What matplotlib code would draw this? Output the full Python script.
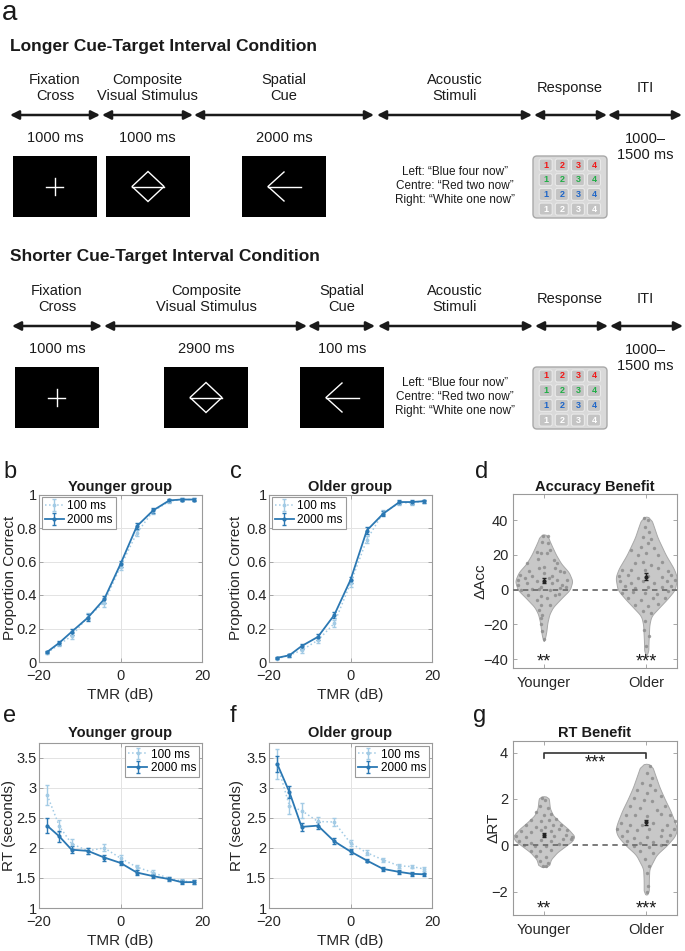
import numpy as np
import matplotlib
matplotlib.use('Agg')
import matplotlib.pyplot as plt
from matplotlib.patches import Rectangle, FancyBboxPatch, Polygon

plt.rcParams['font.family'] = ['Liberation Sans', 'DejaVu Sans']

# ---------------- data ----------------
tmr = [-18, -15, -12, -8, -4, 0, 4, 8, 12, 15, 18]

young_acc_100 = [0.055, 0.105, 0.155, 0.27, 0.355, 0.57, 0.77, 0.90, 0.96, 0.97, 0.97]
young_acc_100_err = [0.006, 0.012, 0.02, 0.02, 0.025, 0.02, 0.02, 0.015, 0.008, 0.008, 0.008]
young_acc_2000 = [0.06, 0.115, 0.18, 0.265, 0.375, 0.585, 0.81, 0.905, 0.965, 0.97, 0.97]
young_acc_2000_err = [0.006, 0.012, 0.02, 0.02, 0.022, 0.02, 0.018, 0.015, 0.008, 0.008, 0.008]

old_acc_100 = [0.02, 0.04, 0.07, 0.13, 0.23, 0.47, 0.73, 0.89, 0.95, 0.95, 0.96]
old_acc_100_err = [0.005, 0.008, 0.015, 0.015, 0.02, 0.02, 0.02, 0.015, 0.01, 0.01, 0.01]
old_acc_2000 = [0.025, 0.04, 0.095, 0.15, 0.28, 0.49, 0.785, 0.885, 0.955, 0.955, 0.96]
old_acc_2000_err = [0.005, 0.008, 0.015, 0.02, 0.02, 0.02, 0.018, 0.015, 0.01, 0.01, 0.01]

young_rt_100 = [2.88, 2.36, 2.07, 1.95, 2.0, 1.83, 1.68, 1.59, 1.49, 1.45, 1.43]
young_rt_100_err = [0.16, 0.10, 0.07, 0.05, 0.06, 0.05, 0.04, 0.04, 0.03, 0.03, 0.03]
young_rt_2000 = [2.37, 2.19, 1.97, 1.95, 1.84, 1.75, 1.59, 1.53, 1.48, 1.43, 1.43]
young_rt_2000_err = [0.12, 0.09, 0.06, 0.05, 0.05, 0.04, 0.04, 0.03, 0.03, 0.03, 0.03]

old_rt_100 = [3.40, 2.70, 2.62, 2.44, 2.43, 2.08, 1.92, 1.80, 1.70, 1.69, 1.65]
old_rt_100_err = [0.25, 0.14, 0.12, 0.07, 0.07, 0.05, 0.04, 0.03, 0.03, 0.03, 0.03]
old_rt_2000 = [3.40, 2.93, 2.35, 2.37, 2.11, 1.94, 1.79, 1.65, 1.60, 1.57, 1.56]
old_rt_2000_err = [0.13, 0.10, 0.07, 0.06, 0.05, 0.04, 0.03, 0.03, 0.03, 0.03, 0.03]

groups = ['Younger', 'Older']

# Accuracy benefit: individual values and their horizontal jitter
young_dacc = [31, 31, 27.6, 27.0, 21.9, 21.3, 21.0, 22.9, 15.2, 17.5, 17.1, 15.6, 10.9, 12.4,
              13.3, 12.4, 10.5, 8.6, 7.6, 9.5, 8.0, 9.9, 5.7, 6.7, 4.8, 6.7, 5.7, 5.7, 2.9, 3.8,
              1.5, 3.8, 2.9, -0.4, 0.4, 0.4, 0.0, 1.0, 1.5, -2.9, -3.8, -2.9, -2.5, -5.7, -4.8,
              -8.6, -8.6, -11.4, -14.3, -16.2, -20, -23.8, -28.6]
young_dacc_jit = [-0.01, 0.04, -0.02, 0.04, -0.07, -0.03, 0.03, 0.065, -0.16, -0.06, 0.1, 0.13,
                  -0.14, -0.05, 0.0, 0.11, 0.16, -0.23, -0.11, 0.0, 0.08, 0.2, -0.25, -0.18,
                  -0.065, 0.05, 0.13, 0.23, -0.25, -0.16, -0.03, 0.08, 0.18, -0.22, -0.11,
                  -0.05, 0.06, 0.16, 0.22, -0.15, -0.03, 0.11, 0.15, -0.065, 0.03, -0.03,
                  0.065, -0.05, -0.016, -0.03, -0.03, -0.016, 0.0]
old_dacc = [41.0, 40.0, 36.2, 33.3, 30.1, 29.0, 24.8, 26.7, 23.8, 22.9, 20.0, 21.0, 20.0, 16.2,
            15.2, 16.2, 14.3, 11.4, 11.4, 11.4, 12.4, 10.5, 8.0, 8.6, 6.7, 8.0, 7.2, 8.6, 4.8,
            3.8, 4.8, 3.8, 4.8, 5.7, 1.9, 1.0, 1.5, 1.5, 2.3, -1.9, -1.5, -1.9, -2.3, -1.0,
            -4.8, -5.7, -4.8, -4.8, -8.6, -9.1, -8.0, -12.4, -13.3, -18.1, -22.9, -26.7, -32.4]
old_dacc_jit = [-0.023, 0.016, -0.01, 0.023, -0.033, 0.05, -0.05, 0.016, 0.08, -0.15, -0.08,
                0.0, 0.11, 0.15, -0.11, -0.03, 0.05, -0.24, -0.15, -0.016, 0.11, 0.21, -0.27,
                -0.18, -0.08, 0.016, 0.15, 0.24, -0.26, -0.15, -0.03, 0.08, 0.2, 0.28, -0.21,
                -0.11, 0.016, 0.15, 0.24, -0.24, -0.13, -0.016, 0.1, 0.21, -0.18, -0.05, 0.065,
                0.18, -0.11, 0.016, 0.11, -0.03, 0.05, -0.016, -0.02, 0.03, 0.0]
dacc_mean = [5.2, 7.5]
dacc_sem = [1.5, 2.0]
dacc_stars = ['**', '***']
# violin outlines (value, half-width)
young_dacc_vy = [-29.5, -28, -24, -19, -14, -10, -5, 0, 5, 10, 15, 20, 25, 29, 31, 31.8]
young_dacc_vw = [0.0, 0.012, 0.025, 0.035, 0.055, 0.09, 0.17, 0.255, 0.28, 0.245, 0.17, 0.12,
                 0.08, 0.05, 0.04, 0.0]
old_dacc_vy = [-37.5, -36, -30, -20, -15, -10, -5, 0, 7, 12, 20, 30, 37, 41, 42]
old_dacc_vw = [0.0, 0.02, 0.022, 0.03, 0.05, 0.13, 0.21, 0.28, 0.30, 0.27, 0.19, 0.11, 0.07,
               0.045, 0.0]

# RT benefit
young_drt = [2.04, 1.97, 1.69, 1.61, 1.43, 1.33, 1.37, 1.11, 1.04, 1.11, 1.14, 0.86, 0.8, 0.8,
             0.86, 0.9, 0.61, 0.57, 0.66, 0.61, 0.69, 0.66, 0.4, 0.37, 0.4, 0.43, 0.37, 0.19,
             0.11, 0.23, 0.19, 0.26, 0.26, 0.0, -0.03, -0.03, 0.04, -0.24, -0.24, -0.2, -0.46,
             -0.49, -0.67, -0.74, -0.89, -0.89]
young_drt_jit = [-0.016, 0.016, -0.04, 0.04, -0.075, 0.007, 0.07, -0.12, -0.026, 0.055, 0.12,
                 -0.17, -0.075, 0.016, 0.088, 0.17, -0.22, -0.12, -0.026, 0.07, 0.15, 0.23,
                 -0.27, -0.17, 0.1, 0.22, 0.28, -0.24, -0.12, -0.026, 0.07, 0.19, 0.27, -0.19,
                 -0.09, 0.023, 0.15, -0.12, -0.04, 0.07, -0.075, 0.023, -0.04, 0.04, -0.01, 0.023]
old_drt = [3.43, 3.11, 2.9, 2.69, 2.61, 2.4, 2.26, 2.4, 2.04, 1.97, 1.9, 2.11, 1.69, 1.61, 1.54,
           1.69, 1.33, 1.33, 1.26, 1.37, 1.33, 0.97, 0.9, 0.86, 0.97, 0.9, 1.04, 0.69, 0.61,
           0.66, 0.69, 0.66, 0.71, 0.4, 0.33, 0.37, 0.4, 0.43, 0.19, 0.11, 0.14, 0.19, -0.03,
           -0.06, 0.0, -0.24, -0.31, -0.6, -0.89, -1.17, -1.74, -2.03]
old_drt_jit = [0.04, 0.007, 0.055, -0.04, 0.04, -0.09, 0.007, 0.09, -0.12, -0.026, 0.055, 0.14,
               -0.16, -0.06, 0.1, 0.185, -0.2, -0.11, 0.007, 0.14, 0.23, -0.25, -0.16, -0.04,
               0.07, 0.2, 0.28, -0.29, -0.19, -0.09, 0.023, 0.15, 0.27, -0.24, -0.12, 0.007,
               0.14, 0.23, -0.19, -0.06, 0.07, 0.2, -0.12, 0.023, 0.14, -0.06, 0.07, -0.01,
               0.023, 0.007, 0.013, 0.007]
drt_mean = [0.45, 1.0]
drt_sem = [0.07, 0.1]
drt_stars = ['**', '***']
young_drt_vy = [-0.93, -0.9, -0.6, -0.3, 0.0, 0.2, 0.4, 0.7, 1.0, 1.3, 1.6, 2.0, 2.1, 2.12]
young_drt_vw = [0.0, 0.05, 0.07, 0.13, 0.22, 0.28, 0.30, 0.24, 0.16, 0.09, 0.06, 0.05, 0.04, 0.0]
old_drt_vy = [-2.12, -2.05, -1.5, -1.0, -0.4, 0.0, 0.4, 0.7, 1.0, 1.5, 2.0, 2.5, 3.0, 3.45, 3.52]
old_drt_vw = [0.0, 0.025, 0.025, 0.03, 0.10, 0.20, 0.28, 0.30, 0.28, 0.235, 0.18, 0.13, 0.09,
              0.055, 0.0]

# ---------------- figure ----------------
W, H = 685, 951
fig = plt.figure(figsize=(W / 100, H / 100), dpi=100)

ax0 = fig.add_axes([0, 0, 1, 1])
ax0.set_xlim(0, W)
ax0.set_ylim(H, 0)
ax0.axis('off')

TXT = '#1a1a1a'


def darrow(x0, x1, y):
    ax0.annotate('', xy=(x1, y), xytext=(x0, y),
                 arrowprops=dict(arrowstyle='<|-|>', lw=1.8, color='#1a1a1a',
                                 mutation_scale=13, shrinkA=0, shrinkB=0))


def box_cross(x, y):
    ax0.add_patch(Rectangle((x, y), 84, 61, fc='black', ec='none'))
    cx, cy = x + 42, y + 30.5
    ax0.plot([cx - 8.5, cx + 8.5], [cy, cy], color='white', lw=1)
    ax0.plot([cx, cx], [cy - 8.5, cy + 8.5], color='white', lw=1)


def box_diamond(x, y):
    ax0.add_patch(Rectangle((x, y), 84, 61, fc='black', ec='none'))
    cx, cy = x + 42, y + 30.5
    ax0.add_patch(Polygon([(cx - 16, cy), (cx, cy - 15), (cx + 16, cy), (cx, cy + 15)],
                          closed=True, fill=False, ec='white', lw=1))
    ax0.plot([cx - 16, cx + 16], [cy, cy], color='white', lw=1)


def box_arrow(x, y):
    ax0.add_patch(Rectangle((x, y), 84, 61, fc='black', ec='none'))
    cx, cy = x + 42, y + 30.5
    ax0.plot([cx - 16, cx + 17], [cy, cy], color='white', lw=1)
    ax0.plot([cx, cx - 16, cx], [cy - 14.5, cy, cy + 14.5], color='white', lw=1)


def keypad(x, y):
    ax0.add_patch(FancyBboxPatch((x, y), 74, 62, boxstyle='round,pad=0,rounding_size=4',
                                 fc='#d9d9d9', ec='#a9a9a9', lw=1))
    cols = ['#f01818', '#1fae45', '#1f66c8', '#ffffff']
    for i in range(4):
        for j in range(4):
            bx = x + 12.7 + 16.1 * j
            by = y + 9 + 14.7 * i
            ax0.add_patch(FancyBboxPatch((bx - 6.5, by - 6), 13, 12,
                                         boxstyle='round,pad=0,rounding_size=2',
                                         fc='#c4c4c4', ec='#e9e9e9', lw=0.8))
            ax0.text(bx, by, str(j + 1), color=cols[i], fontsize=6.5, fontweight='bold',
                     ha='center', va='center')


def schematic(dy, cols, durs, boxes):
    (fx, cx_, sx) = cols
    for (x, t) in [(fx, 'Fixation\nCross'), (cx_, 'Composite\nVisual Stimulus'),
                   (sx, 'Spatial\nCue'), (455, 'Acoustic\nStimuli')]:
        ax0.text(x, 88 + dy, t, fontsize=10.5, ha='center', va='center', color=TXT,
                 linespacing=1.15)
    ax0.text(570, 88 + dy, 'Response', fontsize=10.5, ha='center', va='center', color=TXT)
    ax0.text(645, 88 + dy, 'ITI', fontsize=10.5, ha='center', va='center', color=TXT)
    for (x0, x1) in durs:
        darrow(x0, x1, 115 + dy)
    for (x, t) in [(fx, '1000 ms'), (cx_, boxes[3]), (sx, boxes[4])]:
        ax0.text(x, 138 + dy, t, fontsize=10.5, ha='center', va='center', color=TXT)
    ax0.text(645, 147 + dy, '1000\u2013\n1500 ms', fontsize=10.5, ha='center', va='center',
             color=TXT, linespacing=1.15)
    box_cross(boxes[0], 156 + dy)
    box_diamond(boxes[1], 156 + dy)
    box_arrow(boxes[2], 156 + dy)
    ax0.text(455, 186 + dy, 'Left: \u201cBlue four now\u201d\nCentre: \u201cRed two now\u201d\n'
             'Right: \u201cWhite one now\u201d', fontsize=8.5, ha='center', va='center',
             color=TXT, linespacing=1.25)
    keypad(533, 156 + dy)


ax0.text(2, 13, 'a', fontsize=20, ha='left', va='center', color=TXT)
ax0.text(10, 46, 'Longer Cue-Target Interval Condition', fontsize=12.5, fontweight='bold',
         ha='left', va='center', color=TXT)
schematic(0, (55, 147, 284),
          [(10, 100), (102, 193), (194, 374), (377, 532), (534, 607), (608, 682)],
          (13, 106, 242, '1000 ms', '2000 ms'))
ax0.text(10, 257, 'Shorter Cue-Target Interval Condition', fontsize=12.5, fontweight='bold',
         ha='left', va='center', color=TXT)
schematic(211, (57, 206, 342),
          [(12, 102), (104, 307), (308, 375), (378, 533), (535, 608), (610, 683)],
          (15, 164, 300, '2900 ms', '100 ms'))

for (x, y, t) in [(3, 472, 'b'), (230, 472, 'c'), (475, 472, 'd'),
                  (3, 716, 'e'), (230, 716, 'f'), (473, 716, 'g')]:
    ax0.text(x, y, t, fontsize=17, ha='left', va='center', color=TXT)


# ---------------- data panels ----------------
def px_axes(l, t, r, b):
    return fig.add_axes([l / W, 1 - b / H, (r - l) / W, (b - t) / H])


DARK = '#2b78b3'
LIGHT = '#a3cbe5'
SPINE = '#9a9a9a'


def style(ax, xpad=5, ypad=1.8):
    for s in ax.spines.values():
        s.set_color(SPINE)
        s.set_linewidth(0.8)
    ax.tick_params(direction='in', length=3, width=0.6, color=SPINE, labelsize=10.5,
                   labelcolor='#262626', top=True, right=True)
    ax.tick_params(axis='x', pad=xpad)
    ax.tick_params(axis='y', pad=ypad)


def line_panel(ax, y100, e100, y2000, e2000, title, ylim, yticks, ylab, legloc, ylabx, tpad):
    ax.errorbar(tmr, y100, yerr=e100, fmt='.:', color=LIGHT, ms=3.5, lw=1.1, elinewidth=1,
                capsize=1.5, label='100 ms')
    ax.errorbar(tmr, y2000, yerr=e2000, fmt='.-', color=DARK, ms=4, lw=1.3, elinewidth=1,
                capsize=1.5, label='2000 ms')
    ax.set_xlim(-20, 20)
    ax.set_ylim(*ylim)
    ax.set_xticks([-20, 0, 20])
    ax.set_yticks(yticks)
    ax.grid(True, color='#e3e3e3', lw=0.7)
    ax.set_axisbelow(True)
    style(ax)
    ax.set_title(title, fontsize=10.5, fontweight='bold', pad=tpad, color=TXT)
    ax.set_xlabel('TMR (dB)', fontsize=11, color='#262626')
    ax.set_ylabel(ylab, fontsize=11, color='#262626')
    ax.xaxis.label.set_va('center')
    ax.yaxis.label.set_va('center')
    ax.xaxis.set_label_coords(0.5, -0.2)
    ax.yaxis.set_label_coords(ylabx, 0.5)
    leg = ax.legend(loc=legloc, fontsize=8.5, frameon=True, fancybox=False, framealpha=1,
                    edgecolor=SPINE, handlelength=1.6, handletextpad=0.3, borderpad=0.25,
                    labelspacing=0.15, borderaxespad=0.25)
    leg.get_frame().set_linewidth(0.8)


axb = px_axes(39, 494.5, 202, 662)
line_panel(axb, young_acc_100, young_acc_100_err, young_acc_2000, young_acc_2000_err,
           'Younger group', (0, 1), [0, 0.2, 0.4, 0.6, 0.8, 1], 'Proportion Correct',
           'upper left', -0.178, 2.5)
axb.set_yticklabels(['0', '0.2', '0.4', '0.6', '0.8', '1'])
axc = px_axes(269, 494.5, 432, 662)
line_panel(axc, old_acc_100, old_acc_100_err, old_acc_2000, old_acc_2000_err,
           'Older group', (0, 1), [0, 0.2, 0.4, 0.6, 0.8, 1], 'Proportion Correct',
           'upper left', -0.2, 2.5)
axc.set_yticklabels(['0', '0.2', '0.4', '0.6', '0.8', '1'])
axe = px_axes(39, 742.7, 202, 908)
line_panel(axe, young_rt_100, young_rt_100_err, young_rt_2000, young_rt_2000_err,
           'Younger group', (1, 3.75), [1, 1.5, 2, 2.5, 3, 3.5], 'RT (seconds)',
           'upper right', -0.187, 4)
axe.set_yticklabels(['1', '1.5', '2', '2.5', '3', '3.5'])
axf = px_axes(269, 742.7, 432, 908)
line_panel(axf, old_rt_100, old_rt_100_err, old_rt_2000, old_rt_2000_err,
           'Older group', (1, 3.75), [1, 1.5, 2, 2.5, 3, 3.5], 'RT (seconds)',
           'upper right', -0.196, 4)
axf.set_yticklabels(['1', '1.5', '2', '2.5', '3', '3.5'])


def smooth_profile(vy, vw):
    yy = np.linspace(vy[0], vy[-1], 300)
    hw = np.interp(yy, vy, vw)
    k = np.ones(15) / 15
    hw2 = np.convolve(np.pad(hw, 7, mode='edge'), k, mode='valid')
    hw2[0] = 0
    hw2[-1] = 0
    return yy, hw2


def violin_panel(ax, profiles, vals, jits, means, sems, stars, title, ylim, yticks, ylab,
                 ylabx, star_y, tpad):
    for i, ((vy, vw), v, j) in enumerate(zip(profiles, vals, jits)):
        pos = i + 1
        yy, hw = smooth_profile(vy, vw)
        ax.fill_betweenx(yy, pos - hw, pos + hw, fc='#c8c8c8', ec='#a8a8a8', lw=0.7, zorder=1)
        ax.scatter(pos + np.array(j), v, s=6, c='#8d8d8d', alpha=0.85, lw=0, zorder=2)
        ax.errorbar(pos, means[i], yerr=sems[i], fmt='.', color='#222222', ms=4, lw=1,
                    capsize=1.5, zorder=4)
        ax.text(pos, star_y, stars[i], fontsize=13, ha='center', va='center', color=TXT)
    ax.axhline(0, color='#6f6f6f', ls='--', lw=1.3, dashes=(3, 2.5), zorder=3)
    ax.set_xlim(0.7, 2.3)
    ax.set_ylim(*ylim)
    ax.set_xticks([1, 2])
    ax.set_xticklabels(groups)
    ax.set_yticks(yticks)
    style(ax, xpad=6, ypad=3.5)
    ax.set_title(title, fontsize=10.5, fontweight='bold', pad=tpad, color=TXT)
    ax.set_ylabel(ylab, fontsize=11, color='#262626')
    ax.yaxis.label.set_va('center')
    ax.yaxis.set_label_coords(ylabx, 0.5)


axd = px_axes(513, 494, 677, 668)
violin_panel(axd, [(young_dacc_vy, young_dacc_vw), (old_dacc_vy, old_dacc_vw)],
             [young_dacc, old_dacc], [young_dacc_jit, old_dacc_jit], dacc_mean, dacc_sem,
             dacc_stars, 'Accuracy Benefit', (-45, 55), [-40, -20, 0, 20, 40], '\u0394Acc',
             -0.2, -41.5, 2.5)

axg = px_axes(513, 741, 677, 915)
violin_panel(axg, [(young_drt_vy, young_drt_vw), (old_drt_vy, old_drt_vw)],
             [young_drt, old_drt], [young_drt_jit, old_drt_jit], drt_mean, drt_sem,
             drt_stars, 'RT Benefit', (-3, 4.5), [-2, 0, 2, 4], '\u0394RT', -0.116, -2.72, 3)
axg.plot([1, 1, 2, 2], [3.75, 4, 4, 3.75], color='#333333', lw=1.2)
axg.text(1.5, 3.55, '***', fontsize=13, ha='center', va='center', color=TXT)

fig.savefig('out.png', dpi=100)
